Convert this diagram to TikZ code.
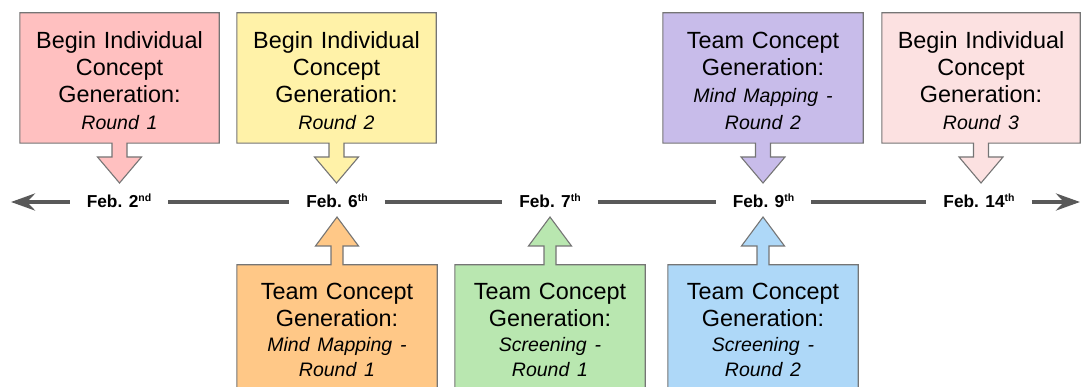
\documentclass[tikz,border=0pt]{standalone}
\usepackage{fontspec}
\setmainfont{Liberation Sans}
\usetikzlibrary{calc,arrows.meta,backgrounds}

\definecolor{edge}{HTML}{757575}
\definecolor{axis}{HTML}{595959}
\definecolor{rose}{HTML}{FFC0C0}
\definecolor{lemon}{HTML}{FFF2A8}
\definecolor{lilac}{HTML}{C8BCEA}
\definecolor{blush}{HTML}{FCE1E1}
\definecolor{apricot}{HTML}{FFC887}
\definecolor{mint}{HTML}{B9E7B0}
\definecolor{sky}{HTML}{AED8F8}

% ordinal suffix on the dates
\newcommand\ord[1]{\raisebox{6pt}{\fontsize{10.5}{10.5}\selectfont\bfseries #1}}
% italic sub-line inside a card
\newcommand\sub[1]{{\fontsize{19.5}{27}\selectfont\itshape #1}}
% taller first line, pushes the text block of a card a little lower
\newcommand\lead{\rule{0pt}{23pt}}

% card with a pointer going down to a date
\newcommand\pointdown[3]{%
  \path[balloon, fill=#3] let \p1=(#1.south), \p2=(#2.center) in
    (#1.south west) -- (#1.north west) -- (#1.north east) -- (#1.south east)
    -- (\x1+7.5pt,\y1) -- (\x1+7.5pt,\y2+45pt) -- (\x1+22pt,\y2+45pt)
    -- (\x1,\y2+19pt)
    -- (\x1-22pt,\y2+45pt) -- (\x1-7.5pt,\y2+45pt) -- (\x1-7.5pt,\y1) -- cycle;}
% card with a pointer going up to a date
\newcommand\pointup[3]{%
  \path[balloon, fill=#3] let \p1=(#1.north), \p2=(#2.center) in
    (#1.north west) -- (#1.south west) -- (#1.south east) -- (#1.north east)
    -- (\x1+6pt,\y1) -- (\x1+6pt,\y2-44pt) -- (\x1+21.5pt,\y2-44pt)
    -- (\x1,\y2-15pt)
    -- (\x1-21.5pt,\y2-44pt) -- (\x1-6pt,\y2-44pt) -- (\x1-6pt,\y1) -- cycle;}

\begin{document}
\begin{tikzpicture}[x=1pt,y=-1pt,
  card/.style={minimum width=199pt, minimum height=130pt, text width=190pt,
    align=center, inner sep=0pt, font=\fontsize{23.4}{27}\selectfont},
  narrow/.style={card, minimum width=190pt, text width=182pt},
  date/.style={font=\fontsize{17.3}{20}\selectfont\bfseries, inner xsep=17pt,
    inner ysep=0pt, text height=11pt, text depth=0pt},
  axisline/.style={draw=axis, line width=4pt},
  balloon/.style={draw=edge, line width=1.1pt, line join=miter}]

\useasboundingbox (0,0) rectangle (1082,387);

% dates on the timeline
\node[date] (d2)  at (119,202)   {Feb. 2\ord{nd}};
\node[date] (d6)  at (337,202)   {Feb. 6\ord{th}};
\node[date] (d7)  at (550,202)   {Feb. 7\ord{th}};
\node[date] (d9)  at (763.5,202) {Feb. 9\ord{th}};
\node[date] (d14) at (979,202)   {Feb. 14\ord{th}};
\coordinate (past)   at (11,202);
\coordinate (future) at (1080,202);

% timeline
\draw[axisline, -{Stealth[length=24pt,width=17pt,inset=8pt]}] (d2.west) -- (past);
\draw[axisline] (d2.east) -- (d6.west);
\draw[axisline] (d6.east) -- (d7.west);
\draw[axisline] (d7.east) -- (d9.west);
\draw[axisline] (d9.east) -- (d14.west);
\draw[axisline, -{Stealth[length=24pt,width=17pt,inset=8pt]}] (d14.east) -- (future);

% cards above the timeline
\node[card] (c1) at (119.5,78) {\lead Begin Individual\\Concept\\Generation:\\\sub{Round 1}};
\node[card] (c2) at (336.5,78) {\lead Begin Individual\\Concept\\Generation:\\\sub{Round 2}};
\node[card, minimum width=200pt] (c3) at (763,78) {\lead Team Concept\\Generation:\\\sub{Mind Mapping -}\\\sub{Round 2}};
\node[card, minimum width=198pt] (c4) at (981,78) {\lead Begin Individual\\Concept\\Generation:\\\sub{Round 3}};

% cards below the timeline
\node[card, minimum width=200pt] (c5) at (337,330) {Team Concept\\Generation:\\[-2pt]\sub{Mind Mapping -}\\[-2pt]\sub{Round 1}};
\node[narrow] (c6) at (550,330) {Team Concept\\Generation:\\[-2pt]\sub{Screening -}\\[-2pt]\sub{Round 1}};
\node[narrow] (c7) at (763,330) {Team Concept\\Generation:\\[-2pt]\sub{Screening -}\\[-2pt]\sub{Round 2}};

\begin{scope}[on background layer]
  \pointdown{c1}{d2}{rose}
  \pointdown{c2}{d6}{lemon}
  \pointdown{c3}{d9}{lilac}
  \pointdown{c4}{d14}{blush}
  \pointup{c5}{d6}{apricot}
  \pointup{c6}{d7}{mint}
  \pointup{c7}{d9}{sky}
\end{scope}
\end{tikzpicture}
\end{document}
